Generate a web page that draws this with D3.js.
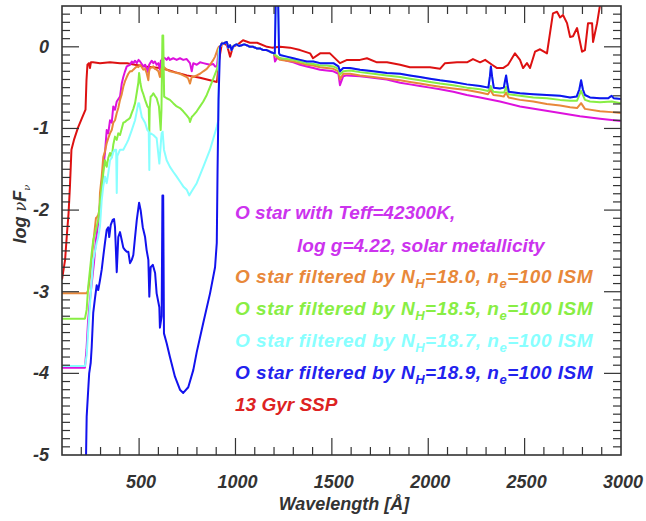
<!DOCTYPE html>
<html><head><meta charset="utf-8">
<script src="https://cdn.jsdelivr.net/npm/d3@7"></script>
<style>body{margin:0;background:#fff}svg{display:block}text{font-family:"Liberation Sans",Arial,sans-serif;font-weight:bold;font-style:italic}</style>
</head><body><svg id="c" width="646" height="521"></svg>
<script>
// ---- data (wavelength in Angstrom, log nuF_nu) ----
const xTickLabels = [500, 1000, 1500, 2000, 2500, 3000];
const yTickLabels = [0, -1, -2, -3, -4, -5];

// shared O-star segment redward of the Lyman edge
const oStarCommon = [[920,0.00],[929,0.04],[937,0.04],[946,0.05],[955,0.06],[963,-0.01],[972,0.02],[980,-0.04],[987,0.00],[996,0.02],[1006,0.03],[1019,0.01],[1032,0.02],[1045,0.03],[1058,0.02],[1075,0.00],[1092,0.00],[1110,-0.02],[1127,-0.02],[1144,-0.04],[1162,-0.04],[1179,-0.06],[1200,-0.08]];

const ssp13 = [[100,-2.85],[116,-2.61],[126,-2.28],[134,-2.04],[141,-1.72],[149,-1.26],[162,-1.14],[183,-0.99],[204,-0.87],[222,-0.77],[227,-0.41],[232,-0.22],[240,-0.20],[245,-0.26],[250,-0.19],[261,-0.19],[297,-0.20],[349,-0.19],[401,-0.20],[437,-0.20],[479,-0.22],[531,-0.24],[608,-0.26],[645,-0.28],[686,-0.31],[748,-0.35],[816,-0.38],[868,-0.41],[904,-0.43],[915,-0.16],[930,0.05],[956,0.02],[972,-0.12],[987,0.00],[1013,0.03],[1039,0.08],[1075,0.05],[1112,0.05],[1164,0.00],[1189,-0.01],[1231,0.00],[1283,-0.01],[1335,-0.04],[1387,-0.08],[1402,-0.14],[1439,-0.08],[1490,-0.08],[1542,-0.20],[1579,-0.16],[1646,-0.16],[1682,-0.14],[1734,-0.19],[1786,-0.19],[1854,-0.22],[1905,-0.25],[1957,-0.25],[2009,-0.25],[2061,-0.27],[2087,-0.20],[2149,-0.19],[2201,-0.19],[2232,-0.15],[2269,-0.19],[2295,-0.16],[2331,-0.22],[2357,-0.26],[2388,-0.26],[2414,-0.22],[2450,-0.08],[2476,-0.16],[2492,-0.26],[2512,-0.20],[2528,-0.26],[2554,-0.06],[2580,-0.03],[2616,-0.08],[2647,0.41],[2668,0.43],[2684,0.36],[2699,0.39],[2720,0.29],[2736,0.12],[2751,0.13],[2772,0.23],[2798,-0.06],[2813,-0.04],[2829,0.29],[2850,0.29],[2855,0.06],[2876,0.29],[2891,0.51],[2922,0.82]];

const oStarShort = [[100,-3.93],[219,-3.93],[227,-3.71],[235,-3.37],[245,-3.10],[256,-2.86],[266,-2.64],[276,-2.37],[288,-2.15],[297,-1.94],[306,-1.73],[314,-1.48],[323,-1.30],[332,-1.02],[340,-1.06],[349,-0.90],[358,-0.93],[366,-0.73],[375,-0.77],[384,-0.67],[401,-0.61],[410,-0.45],[418,-0.37],[427,-0.30],[436,-0.24],[453,-0.22],[462,-0.18],[470,-0.20],[479,-0.17],[488,-0.20],[497,-0.16],[505,-0.18],[514,-0.21],[522,-0.24],[531,-0.22],[539,-0.26],[548,-0.32],[552,-0.22],[557,-0.20],[566,-0.17],[574,-0.20],[582,-0.18],[591,-0.22],[600,-0.20],[608,-0.28],[613,-0.17],[617,-0.16],[625,-0.13],[634,-0.14],[643,-0.16],[652,-0.13],[660,-0.16],[677,-0.14],[695,-0.16],[712,-0.14],[729,-0.16],[747,-0.15],[764,-0.20],[773,-0.30],[781,-0.20],[799,-0.22],[816,-0.19],[833,-0.20],[851,-0.21],[868,-0.22],[885,-0.21],[894,-0.24],[904,-0.24],[914,0.00]];
const oStarLong = [[1200,-0.09],[1205,-0.18],[1215,-0.14],[1231,-0.14],[1266,-0.17],[1300,-0.19],[1335,-0.22],[1370,-0.24],[1404,-0.26],[1439,-0.28],[1473,-0.29],[1508,-0.30],[1534,-0.33],[1542,-0.47],[1559,-0.36],[1577,-0.35],[1646,-0.36],[1681,-0.37],[1785,-0.40],[1854,-0.44],[1905,-0.46],[1957,-0.48],[2009,-0.50],[2061,-0.52],[2130,-0.55],[2200,-0.59],[2269,-0.62],[2372,-0.67],[2476,-0.73],[2580,-0.77],[2684,-0.81],[2787,-0.85],[2891,-0.88],[3000,-0.91]];

const nh180Short = [[100,-3.02],[228,-3.02],[236,-2.98],[245,-2.82],[254,-2.61],[262,-2.40],[271,-2.21],[276,-2.10],[283,-2.08],[288,-2.06],[294,-2.00],[297,-1.79],[306,-1.59],[314,-1.35],[323,-1.28],[332,-1.18],[340,-1.12],[349,-1.06],[358,-1.02],[366,-0.93],[375,-0.90],[384,-0.81],[392,-0.75],[401,-0.65],[410,-0.58],[418,-0.49],[427,-0.42],[436,-0.37],[444,-0.33],[453,-0.30],[462,-0.30],[470,-0.28],[479,-0.26],[488,-0.24],[496,-0.25],[505,-0.22],[514,-0.25],[522,-0.28],[531,-0.27],[539,-0.32],[548,-0.41],[552,-0.30],[557,-0.26],[566,-0.25],[574,-0.24],[582,-0.27],[591,-0.28],[600,-0.30],[608,-0.37],[613,-0.28],[617,-0.26],[625,-0.24],[634,-0.26],[643,-0.28],[660,-0.30],[677,-0.31],[695,-0.32],[712,-0.33],[729,-0.35],[747,-0.37],[755,-0.39],[764,-0.45],[773,-0.37],[781,-0.37],[799,-0.35],[816,-0.33],[833,-0.30],[851,-0.27],[868,-0.22],[885,-0.16],[894,-0.12],[909,-0.02],[914,0.00]];
const nh180Long = [[1200,-0.10],[1231,-0.16],[1266,-0.17],[1300,-0.18],[1335,-0.20],[1370,-0.22],[1404,-0.23],[1439,-0.25],[1473,-0.26],[1508,-0.27],[1534,-0.30],[1542,-0.40],[1559,-0.33],[1594,-0.33],[1646,-0.35],[1715,-0.37],[1785,-0.39],[1854,-0.41],[1905,-0.43],[1957,-0.45],[2009,-0.47],[2061,-0.49],[2129,-0.51],[2200,-0.53],[2269,-0.56],[2310,-0.58],[2318,-0.55],[2324,-0.51],[2330,-0.56],[2338,-0.59],[2372,-0.60],[2392,-0.61],[2404,-0.56],[2416,-0.62],[2476,-0.65],[2545,-0.67],[2615,-0.70],[2684,-0.72],[2736,-0.74],[2772,-0.75],[2793,-0.69],[2813,-0.76],[2891,-0.79],[2952,-0.80],[3000,-0.81]];

const nh185Short = [[100,-3.33],[219,-3.33],[228,-3.22],[236,-2.94],[254,-2.53],[262,-2.37],[276,-2.24],[288,-2.12],[297,-1.91],[306,-1.72],[314,-1.55],[323,-1.39],[332,-1.47],[340,-1.36],[349,-1.30],[358,-1.35],[366,-1.20],[375,-1.10],[384,-1.14],[392,-1.06],[401,-1.08],[410,-1.00],[418,-0.93],[427,-0.92],[436,-0.90],[444,-0.89],[453,-0.87],[462,-0.81],[470,-0.76],[479,-0.69],[488,-0.56],[496,-0.44],[500,-0.32],[507,-0.45],[514,-0.53],[522,-0.58],[531,-0.65],[543,-0.73],[550,-0.75],[553,-1.04],[555,-0.75],[560,-0.61],[566,-0.60],[574,-0.57],[582,-0.60],[591,-0.63],[603,-0.73],[612,-1.02],[616,-0.77],[621,0.14],[625,0.14],[630,-0.61],[643,-0.63],[660,-0.65],[677,-0.69],[695,-0.73],[712,-0.75],[729,-0.79],[747,-0.84],[760,-0.88],[764,-0.92],[773,-0.86],[781,-0.84],[799,-0.79],[816,-0.73],[833,-0.67],[851,-0.59],[868,-0.49],[885,-0.39],[903,-0.28],[911,-0.20],[914,-0.04]];
const nh185Long = [[1200,-0.09],[1231,-0.14],[1266,-0.15],[1300,-0.16],[1335,-0.18],[1370,-0.20],[1404,-0.21],[1439,-0.23],[1473,-0.23],[1508,-0.24],[1534,-0.27],[1542,-0.34],[1559,-0.30],[1594,-0.29],[1646,-0.31],[1715,-0.33],[1785,-0.35],[1854,-0.37],[1905,-0.39],[1957,-0.41],[2009,-0.43],[2061,-0.45],[2129,-0.47],[2200,-0.50],[2269,-0.52],[2310,-0.54],[2318,-0.52],[2324,-0.48],[2330,-0.52],[2338,-0.55],[2372,-0.56],[2394,-0.56],[2404,-0.49],[2416,-0.58],[2476,-0.60],[2545,-0.62],[2615,-0.63],[2684,-0.65],[2736,-0.66],[2772,-0.66],[2793,-0.54],[2813,-0.65],[2839,-0.67],[2891,-0.68],[2952,-0.67],[3000,-0.69]];

const nh187Short = [[100,-3.91],[219,-3.91],[228,-3.78],[236,-3.47],[245,-3.16],[262,-2.61],[280,-2.40],[288,-2.33],[297,-2.20],[306,-1.88],[314,-1.71],[323,-1.59],[332,-1.67],[340,-1.55],[349,-1.39],[358,-1.36],[366,-1.29],[375,-1.26],[381,-1.26],[384,-1.79],[387,-1.34],[401,-1.26],[418,-1.26],[436,-1.18],[444,-1.14],[462,-1.02],[479,-0.90],[496,-0.69],[500,-0.69],[514,-0.86],[531,-0.93],[543,-1.02],[550,-1.04],[553,-1.51],[555,-1.06],[560,-1.06],[574,-1.08],[591,-1.12],[605,-1.43],[614,-1.14],[617,-1.06],[622,-1.04],[629,-1.26],[643,-1.39],[660,-1.47],[677,-1.53],[695,-1.59],[712,-1.65],[729,-1.71],[747,-1.75],[760,-1.82],[773,-1.77],[799,-1.67],[833,-1.47],[868,-1.26],[903,-0.98],[911,-0.90],[914,-0.04]];

const nh189Short = [[222,-5.40],[228,-4.53],[236,-4.20],[241,-4.00],[249,-3.87],[254,-3.68],[262,-3.26],[271,-3.08],[280,-2.92],[288,-2.98],[297,-2.86],[306,-2.73],[314,-2.57],[323,-2.40],[332,-2.24],[340,-2.21],[345,-2.33],[353,-2.18],[363,-2.12],[370,-2.11],[375,-2.21],[384,-2.76],[392,-2.33],[401,-2.27],[410,-2.37],[418,-2.46],[427,-2.49],[436,-2.51],[444,-2.51],[453,-2.65],[462,-2.61],[470,-2.55],[479,-2.33],[488,-2.12],[500,-1.91],[508,-2.00],[519,-2.21],[531,-2.33],[539,-2.49],[548,-2.61],[553,-3.06],[560,-2.70],[571,-2.67],[583,-2.77],[591,-3.02],[605,-3.19],[608,-3.44],[617,-3.30],[621,-1.82],[625,-1.82],[629,-3.51],[643,-3.63],[660,-3.80],[686,-4.04],[712,-4.20],[729,-4.24],[755,-4.17],[781,-3.96],[799,-3.74],[833,-3.38],[868,-3.02],[894,-2.70],[903,-2.40],[907,-1.51],[912,-0.65]];
const nh189Long = [[1204,-0.08],[1209,0.60],[1221,0.60],[1226,-0.08],[1231,-0.10],[1266,-0.12],[1300,-0.14],[1335,-0.16],[1370,-0.18],[1404,-0.18],[1439,-0.20],[1473,-0.20],[1508,-0.20],[1534,-0.24],[1542,-0.30],[1559,-0.26],[1594,-0.26],[1646,-0.28],[1715,-0.30],[1785,-0.32],[1854,-0.33],[1905,-0.35],[1957,-0.37],[2009,-0.39],[2061,-0.41],[2129,-0.43],[2200,-0.46],[2269,-0.48],[2312,-0.50],[2320,-0.36],[2325,-0.24],[2331,-0.36],[2340,-0.50],[2372,-0.51],[2392,-0.50],[2398,-0.42],[2404,-0.35],[2410,-0.45],[2418,-0.55],[2476,-0.57],[2545,-0.58],[2615,-0.59],[2684,-0.60],[2736,-0.62],[2770,-0.61],[2784,-0.52],[2793,-0.41],[2802,-0.52],[2813,-0.59],[2839,-0.62],[2891,-0.63],[2934,-0.63],[2945,-0.61],[2952,-0.60],[2962,-0.63],[3000,-0.64]];

const seriesColors = ["#dd11dd","#e8883a","#88ee44","#88ffff","#1212ee","#dd1111"];

// ---- chart ----
const m = {l:62, r:621, t:6, b:455};
const svg = d3.select("#c");
const x = d3.scaleLinear().domain([100, 3000]).range([m.l, m.r]);
const y = d3.scaleLinear().domain([-5, 0.5]).range([m.b, m.t]);

svg.append("defs").append("clipPath").attr("id","clip")
  .append("rect").attr("x",m.l).attr("y",m.t).attr("width",m.r-m.l).attr("height",m.b-m.t);

const line = d3.line().x(d=>x(d[0])).y(d=>y(d[1]));
const series = [
  {pts: ssp13, c: seriesColors[5]},
  {pts: oStarShort.concat(oStarCommon, oStarLong), c: seriesColors[0]},
  {pts: nh180Short.concat(oStarCommon, nh180Long), c: seriesColors[1]},
  {pts: nh185Short.concat(oStarCommon, nh185Long), c: seriesColors[2]},
  {pts: nh187Short.concat(oStarCommon, nh189Long), c: seriesColors[3]},
  {pts: nh189Short.concat(oStarCommon, nh189Long), c: seriesColors[4]}
];
const g = svg.append("g").attr("clip-path","url(#clip)");
series.forEach(s => g.append("path").attr("d", line(s.pts)).attr("fill","none")
  .attr("stroke", s.c).attr("stroke-width",2).attr("stroke-linejoin","round"));

// axes with inward ticks on all four sides
const axCol = "#333";
const xMinor = d3.range(200, 3000, 100);
const yMinor = d3.range(-49, 5, 1).map(v=>v/10);
const isMajX = v => v % 500 === 0;
const isMajY = v => Math.abs(v - Math.round(v)) < 1e-6;
xMinor.forEach(v => {
  const L = isMajX(v) ? 17 : 8;
  svg.append("line").attr("x1",x(v)).attr("x2",x(v)).attr("y1",m.b).attr("y2",m.b-L).attr("stroke",axCol).attr("stroke-width",1.2);
  svg.append("line").attr("x1",x(v)).attr("x2",x(v)).attr("y1",m.t).attr("y2",m.t+L).attr("stroke",axCol).attr("stroke-width",1.2);
});
yMinor.forEach(v => {
  const L = isMajY(v) ? 17 : 8;
  svg.append("line").attr("y1",y(v)).attr("y2",y(v)).attr("x1",m.l).attr("x2",m.l+L).attr("stroke",axCol).attr("stroke-width",1.2);
  svg.append("line").attr("y1",y(v)).attr("y2",y(v)).attr("x1",m.r).attr("x2",m.r-L).attr("stroke",axCol).attr("stroke-width",1.2);
});
svg.append("rect").attr("x",m.l).attr("y",m.t).attr("width",m.r-m.l).attr("height",m.b-m.t)
  .attr("fill","none").attr("stroke",axCol).attr("stroke-width",1.6);

xTickLabels.forEach(v => svg.append("text").attr("x",x(v)+2).attr("y",488).attr("text-anchor","middle")
  .attr("font-size",18).attr("fill",axCol).text(v));
yTickLabels.forEach(v => svg.append("text").attr("x",49).attr("y",y(v)+6).attr("text-anchor","end")
  .attr("font-size",18).attr("fill",axCol).text(v));

svg.append("text").attr("x",344).attr("y",510).attr("text-anchor","middle").attr("font-size",18)
  .attr("fill",axCol).text("Wavelength [Å]");
const yl = svg.append("text").attr("transform","translate(26,214) rotate(-90)").attr("text-anchor","middle")
  .attr("font-size",18).attr("fill",axCol);
yl.append("tspan").text("log ");
yl.append("tspan").attr("font-weight","normal").attr("font-family","DejaVu Serif").attr("font-size",16).text("ν");
yl.append("tspan").text("F");
yl.append("tspan").attr("font-weight","normal").attr("font-family","DejaVu Serif").attr("font-size",10).attr("dy",4).text("ν");

// legend
const legColors = ["#cc33ee","#e8883a","#88ee44","#88ffff","#2222ee","#dd2222"];
const legNH = ["18.0","18.5","18.7","18.9"];
const fs = 19;
function fit(t, target) {
  const n = t.text().length;
  const w = t.node().getComputedTextLength();
  if (w < target) t.attr("letter-spacing", ((target - w) / n).toFixed(2));
}
svg.append("text").attr("x",235).attr("y",219).attr("font-size",fs).attr("fill",legColors[0]).text("O star with Teff=42300K,");
svg.append("text").attr("x",297).attr("y",252).attr("font-size",fs).attr("fill",legColors[0]).text("log g=4.22, solar metallicity");
legNH.forEach((nh,i) => {
  const t = svg.append("text").attr("x",235).attr("y",283 + i*32).attr("font-size",fs).attr("fill",legColors[i+1]);
  t.append("tspan").text("O star filtered by N");
  t.append("tspan").attr("font-size",13).attr("dy",5).text("H");
  t.append("tspan").attr("dy",-5).text("=" + nh + ", n");
  t.append("tspan").attr("font-size",13).attr("dy",5).text("e");
  t.append("tspan").attr("dy",-5).text("=100 ISM");
  fit(t, 358);
});
svg.append("text").attr("x",235).attr("y",411).attr("font-size",fs).attr("fill",legColors[5]).text("13 Gyr SSP");
</script></body></html>
